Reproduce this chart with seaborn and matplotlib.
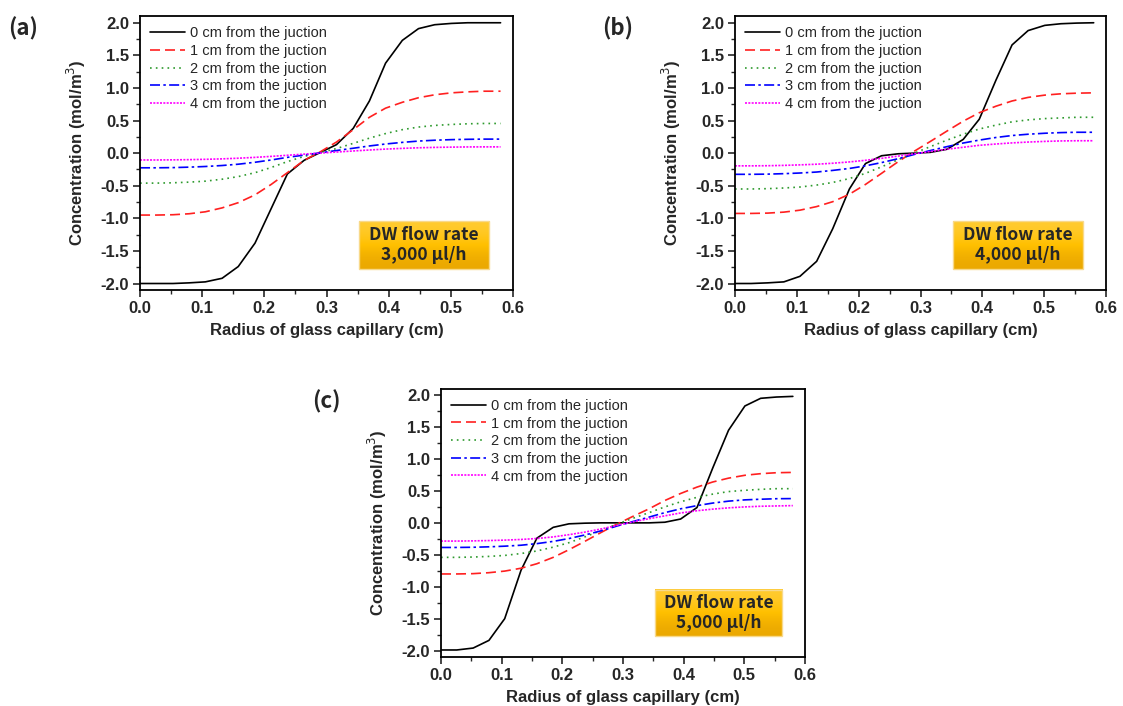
import matplotlib
matplotlib.use("Agg")
import matplotlib.pyplot as plt
import seaborn as sns
from matplotlib.colors import LinearSegmentedColormap
from matplotlib.ticker import MultipleLocator

# Radius positions (cm), shared by all curves
radius = [0.000, 0.026, 0.053, 0.079, 0.105, 0.132, 0.158, 0.185, 0.211, 0.237, 0.264, 0.290,
          0.316, 0.343, 0.369, 0.395, 0.422, 0.448, 0.474, 0.501, 0.527, 0.553, 0.580]

labels = ["0 cm from the juction", "1 cm from the juction", "2 cm from the juction",
          "3 cm from the juction", "4 cm from the juction"]

# (a) DW flow rate 3,000 ul/h
a_0cm = [-2.0, -2.0, -2.0, -1.99, -1.975, -1.92, -1.74, -1.38, -0.85, -0.32, -0.11, 0.01,
         0.13, 0.38, 0.80, 1.38, 1.73, 1.91, 1.97, 1.99, 2.0, 2.0, 2.0]
a_1cm = [-0.95, -0.95, -0.945, -0.93, -0.90, -0.84, -0.76, -0.64, -0.48, -0.30, -0.11, 0.02,
         0.17, 0.36, 0.55, 0.69, 0.78, 0.85, 0.895, 0.925, 0.94, 0.95, 0.95]
a_2cm = [-0.46, -0.46, -0.455, -0.445, -0.43, -0.40, -0.36, -0.30, -0.22, -0.13, -0.05, 0.01,
         0.07, 0.15, 0.23, 0.30, 0.36, 0.40, 0.425, 0.44, 0.45, 0.455, 0.455]
a_3cm = [-0.225, -0.225, -0.222, -0.215, -0.205, -0.19, -0.17, -0.14, -0.105, -0.065, -0.03, 0.005,
         0.04, 0.075, 0.11, 0.14, 0.165, 0.185, 0.198, 0.207, 0.212, 0.215, 0.215]
a_4cm = [-0.105, -0.105, -0.103, -0.10, -0.095, -0.088, -0.078, -0.065, -0.05, -0.033, -0.015, 0.0,
         0.017, 0.033, 0.048, 0.062, 0.073, 0.082, 0.088, 0.092, 0.095, 0.096, 0.096]

# (b) DW flow rate 4,000 ul/h
b_0cm = [-2.0, -2.0, -1.99, -1.975, -1.89, -1.66, -1.16, -0.55, -0.16, -0.04, -0.01, 0.0,
         0.012, 0.06, 0.21, 0.52, 1.12, 1.66, 1.88, 1.96, 1.985, 1.995, 2.0]
b_1cm = [-0.925, -0.925, -0.92, -0.905, -0.875, -0.82, -0.745, -0.63, -0.48, -0.31, -0.13, 0.03,
         0.18, 0.34, 0.49, 0.62, 0.72, 0.80, 0.855, 0.89, 0.91, 0.92, 0.925]
b_2cm = [-0.55, -0.55, -0.545, -0.535, -0.52, -0.49, -0.45, -0.39, -0.31, -0.21, -0.10, 0.0,
         0.10, 0.20, 0.29, 0.37, 0.43, 0.48, 0.51, 0.53, 0.54, 0.55, 0.55]
b_3cm = [-0.325, -0.325, -0.322, -0.315, -0.305, -0.29, -0.265, -0.235, -0.195, -0.145, -0.085, -0.02,
         0.04, 0.10, 0.155, 0.20, 0.24, 0.27, 0.29, 0.305, 0.315, 0.32, 0.32]
b_4cm = [-0.195, -0.195, -0.193, -0.188, -0.18, -0.17, -0.155, -0.135, -0.11, -0.08, -0.045, -0.01,
         0.025, 0.06, 0.09, 0.12, 0.14, 0.157, 0.17, 0.18, 0.187, 0.19, 0.19]

# (c) DW flow rate 5,000 ul/h
c_0cm = [-1.99, -1.99, -1.96, -1.84, -1.50, -0.74, -0.24, -0.07, -0.015, -0.005, 0.0, 0.0,
         0.0, 0.0, 0.01, 0.06, 0.24, 0.86, 1.45, 1.83, 1.95, 1.97, 1.98]
c_1cm = [-0.80, -0.80, -0.795, -0.78, -0.755, -0.71, -0.64, -0.54, -0.42, -0.29, -0.15, -0.02,
         0.10, 0.22, 0.35, 0.46, 0.56, 0.64, 0.70, 0.745, 0.77, 0.785, 0.79]
c_2cm = [-0.54, -0.54, -0.535, -0.525, -0.51, -0.48, -0.44, -0.38, -0.31, -0.22, -0.12, -0.02,
         0.07, 0.16, 0.25, 0.33, 0.40, 0.45, 0.49, 0.51, 0.525, 0.535, 0.535]
c_3cm = [-0.385, -0.385, -0.382, -0.375, -0.365, -0.35, -0.325, -0.29, -0.245, -0.19, -0.125, -0.05,
         0.02, 0.09, 0.16, 0.22, 0.27, 0.31, 0.34, 0.36, 0.37, 0.378, 0.38]
c_4cm = [-0.285, -0.285, -0.282, -0.277, -0.27, -0.26, -0.245, -0.22, -0.185, -0.145, -0.095, -0.04,
         0.015, 0.065, 0.11, 0.155, 0.19, 0.215, 0.235, 0.25, 0.26, 0.265, 0.27]

panels = [
    ("(a)", "3,000 µl/h", [a_0cm, a_1cm, a_2cm, a_3cm, a_4cm]),
    ("(b)", "4,000 µl/h", [b_0cm, b_1cm, b_2cm, b_3cm, b_4cm]),
    ("(c)", "5,000 µl/h", [c_0cm, c_1cm, c_2cm, c_3cm, c_4cm]),
]

colors = ["black", "#FF2020", "#2E9A2E", "#0000FF", "#FF00FF"]
styles = ["-", (0, (6, 3)), (0, (1, 2.5)), (0, (6, 2, 1.5, 2)), (0, (1.2, 0.8))]

sns.set_style("ticks")
plt.rcParams["font.family"] = ["Liberation Sans", "DejaVu Sans"]
plt.rcParams["axes.unicode_minus"] = False
box_font = ["Noto Sans CJK KR", "DejaVu Sans"]

# gold gradient for the flow-rate box
gold = LinearSegmentedColormap.from_list("gold", ["#EBA800", "#FFC000", "#FFCB30"])

fig = plt.figure(figsize=(11.23, 7.06), dpi=100)
axes_pos = [
    [0.1247, 0.5892, 0.3321, 0.3878],
    [0.6545, 0.5892, 0.3304, 0.3878],
    [0.3927, 0.0694, 0.3241, 0.3800],
]
tag_pos = [(0.007, 0.960), (0.536, 0.960), (0.278, 0.431)]

for (tag, rate, series), pos, tp in zip(panels, axes_pos, tag_pos):
    ax = fig.add_axes(pos)
    for vals, lab, col, ls in zip(series, labels, colors, styles):
        sns.lineplot(x=radius, y=vals, ax=ax, color=col, linestyle=ls, linewidth=1.2, label=lab)

    # flow-rate box with vertical gradient
    bx0, bx1, by0, by1 = 0.587, 0.937, 0.077, 0.251
    ax.imshow([[1.0], [0.5], [0.0]], cmap=gold, aspect="auto", interpolation="bicubic",
              extent=(bx0, bx1, by0, by1), transform=ax.transAxes, zorder=3)
    ax.add_patch(plt.Rectangle((bx0, by0), bx1 - bx0, by1 - by0, transform=ax.transAxes,
                               fill=False, edgecolor="#F8D98A", linewidth=1.0, zorder=4))
    ax.text((bx0 + bx1) / 2, (by0 + by1) / 2, "DW flow rate\n" + rate, transform=ax.transAxes,
            ha="center", va="center", fontsize=12.5, fontweight="bold", family=box_font,
            linespacing=1.1, zorder=5)

    ax.set_xlim(0, 0.6)
    ax.set_ylim(-2.1, 2.1)
    ax.xaxis.set_major_locator(MultipleLocator(0.1))
    ax.xaxis.set_minor_locator(MultipleLocator(0.05))
    ax.yaxis.set_major_locator(MultipleLocator(0.5))
    ax.yaxis.set_minor_locator(MultipleLocator(0.25))
    ax.tick_params(which="major", direction="out", length=5, width=1.2, labelsize=12, pad=3)
    ax.tick_params(which="minor", direction="out", length=3, width=1.0)
    for lbl in ax.get_xticklabels() + ax.get_yticklabels():
        lbl.set_fontweight("bold")
    for sp in ax.spines.values():
        sp.set_linewidth(1.3)
        sp.set_color("black")

    ax.set_xlabel("Radius of glass capillary (cm)", fontsize=12, fontweight="bold", labelpad=5)
    ax.set_ylabel("Concentration (mol/m$^3$)", fontsize=12, fontweight="bold", labelpad=9)

    ax.legend(loc="upper left", frameon=False, fontsize=10.5, handlelength=2.4,
              handletextpad=0.3, labelspacing=0.25, borderaxespad=0.5, borderpad=0.2)

    fig.text(tp[0], tp[1], tag, fontsize=16, fontweight="bold", family=box_font,
             ha="left", va="center")

fig.savefig("out.png", dpi=100)
